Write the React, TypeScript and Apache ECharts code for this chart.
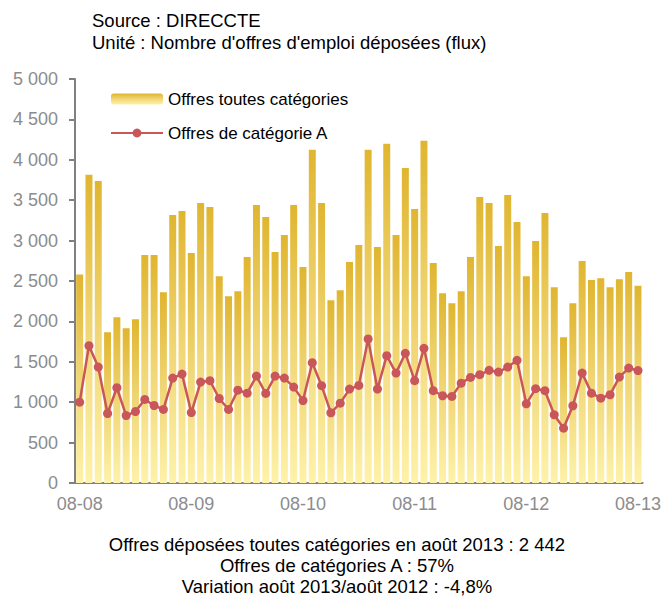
import React, { useEffect, useRef } from "react";
import * as echarts from "echarts";

const startYear = 2008;
const startMonth = 8;
const monthCount = 61;
const categories: string[] = [];
for (let i = 0; i < monthCount; i++) {
  const m = ((startMonth - 1 + i) % 12) + 1;
  const y = startYear + Math.floor((startMonth - 1 + i) / 12);
  categories.push(String(m).padStart(2, "0") + "-" + String(y % 100).padStart(2, "0"));
}

const totalOffers = [
  2580, 3814, 3739, 1865, 2051, 1915, 2027, 2821, 2821, 2362,
  3317, 3367, 2846, 3466, 3417, 2560, 2312, 2374, 2796, 3441,
  3292, 2858, 3069, 3441, 2672, 4124, 3466, 2262, 2386, 2734,
  2945, 4124, 2920, 4198, 3069, 3900, 3392, 4236, 2722, 2349,
  2225, 2374, 2796, 3541, 3466, 2933, 3565, 3230, 2560, 2995,
  3342, 2424, 1803, 2225, 2746, 2511, 2535, 2424, 2523, 2610,
  2442,
];

const categoryAOffers = [
  1000, 1700, 1435, 860, 1179, 835, 885, 1034, 959, 910,
  1298, 1348, 872, 1249, 1266, 1046, 910, 1149, 1112, 1323,
  1108, 1323, 1298, 1187, 1021, 1489, 1204, 869, 988, 1162,
  1207, 1782, 1162, 1576, 1360, 1605, 1266, 1667, 1142, 1080,
  1071, 1236, 1307, 1340, 1394, 1373, 1435, 1518, 980, 1167,
  1142, 844, 678, 956, 1360, 1112, 1050, 1092, 1311, 1422,
  1392,
];

const seriesNames = ["Offres toutes catégories", "Offres de catégorie A"];
const titleLines = ["Source : DIRECCTE", "Unité : Nombre d'offres d'emploi déposées (flux)"];
const footerLines = [
  "Offres déposées toutes catégories en août 2013 : 2 442",
  "Offres de catégories A : 57%",
  "Variation août 2013/août 2012 : -4,8%",
];

const FONT = "'Liberation Sans', Arial, sans-serif";

export default function App() {
  const ref = useRef<HTMLDivElement>(null);
  useEffect(() => {
    if (!ref.current) return;
    const chart = echarts.init(ref.current, null, { renderer: "svg" });
    const barGradient = new echarts.graphic.LinearGradient(0, 0, 0, 1, [
      { offset: 0, color: "#E0B52F" },
      { offset: 0.5, color: "#F0D675" },
      { offset: 1, color: "#FEF2AA" },
    ]);
    chart.setOption({
      animation: false,
      textStyle: { fontFamily: FONT },
      title: {
        text: titleLines[0],
        subtext: titleLines[1],
        left: 92,
        top: 11,
        padding: 0,
        itemGap: 3,
        textStyle: { fontSize: 18.5, fontWeight: "normal", color: "#000", fontFamily: FONT, lineHeight: 19 },
        subtextStyle: { fontSize: 18.5, color: "#000", fontFamily: FONT, lineHeight: 19 },
      },
      legend: {
        orient: "vertical",
        left: 110,
        top: 89,
        padding: 0,
        itemWidth: 52,
        itemHeight: 11,
        itemGap: 14,
        textStyle: { fontSize: 17, color: "#000", fontFamily: FONT, lineHeight: 20 },
        data: seriesNames,
      },
      grid: { left: 75, right: 20, top: 79, bottom: 114, containLabel: false },
      xAxis: {
        type: "category",
        data: categories,
        boundaryGap: true,
        axisLine: { lineStyle: { color: "#808080", width: 2 } },
        axisTick: { interval: 11, length: 5, lineStyle: { color: "#808080", width: 2 } },
        axisLabel: { interval: 11, fontSize: 18, color: "#8C8C8C", margin: 12, fontFamily: FONT },
        splitLine: { show: false },
      },
      yAxis: {
        type: "value",
        min: 0,
        max: 5000,
        interval: 500,
        axisLine: { show: true, lineStyle: { color: "#808080", width: 2 } },
        axisTick: { show: true, length: 6, lineStyle: { color: "#808080", width: 2 } },
        axisLabel: {
          fontSize: 18,
          color: "#8C8C8C",
          margin: 17,
          fontFamily: FONT,
          formatter: (v: number) => String(v).replace(/\B(?=(\d{3})+(?!\d))/g, " "),
        },
        splitLine: { show: false },
      },
      series: [
        {
          name: seriesNames[0],
          type: "bar",
          data: totalOffers,
          barCategoryGap: "25%",
          itemStyle: { color: barGradient },
        },
        {
          name: seriesNames[1],
          type: "line",
          data: categoryAOffers,
          symbol: "circle",
          symbolSize: 9,
          showAllSymbol: true,
          lineStyle: { color: "#C9575A", width: 2.5 },
          itemStyle: { color: "#C9575A" },
        },
      ],
      graphic: footerLines.map((t, i) => ({
        type: "text",
        x: 337,
        y: 544 + i * 21.3,
        style: {
          text: t,
          fontSize: 18.5,
          fontFamily: FONT,
          fill: "#000",
          textAlign: "center",
          textVerticalAlign: "middle",
        },
      })),
    });
    return () => chart.dispose();
  }, []);
  return (
    <div
      ref={ref}
      style={{ position: "fixed", left: 0, top: 0, width: 664, height: 597, background: "#fff" }}
    />
  );
}
